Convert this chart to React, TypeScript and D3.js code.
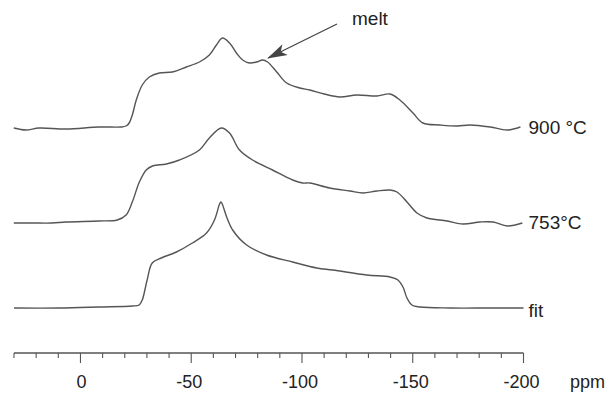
import React, { useEffect, useRef } from "react";
import * as d3 from "d3";

// chemical shift (ppm) and intensity above each trace's own baseline
const ppm900 = [30.1, 24.6, 18.7, 6.5, -8.4, -18.4, -20.6, -22.0, -23.4, -25.2, -27.9, -31.1, -35.6, -41.5, -47.8, -53.7, -58.2, -61.4, -64.1, -67.3, -70.4, -73.2, -76.3, -79.5, -82.2, -84.5, -88.6, -93.1, -99.0, -103.5, -110.0, -117.1, -124.8, -133.8, -139.7, -144.2, -150.1, -154.6, -162.4, -170.0, -175.9, -185.0, -192.7, -198.6];
const int900 = [0, -2, 0, -1, 1, 1, 2, 5, 13, 28, 43, 51, 55, 56, 61, 66, 73, 83, 90, 85, 75, 68, 65, 66, 68, 66, 56, 45, 40, 38, 34, 31, 33, 32, 34, 28, 15, 5, 3, 2, 3, 1, -2, 1];

const ppm753 = [30.1, 21.9, 12.9, 6.5, -8.4, -16.6, -20.6, -23.4, -26.6, -29.7, -32.5, -38.8, -44.7, -53.7, -58.2, -63.6, -67.3, -71.8, -77.7, -86.7, -95.8, -100.3, -103.5, -112.5, -121.6, -127.5, -133.8, -139.7, -142.9, -147.4, -151.9, -156.4, -165.5, -172.7, -180.4, -186.3, -192.7, -199.5];
const int753 = [0, 0, 0, 1, 2, 3, 8, 21, 41, 53, 57, 59, 63, 73, 85, 95, 90, 73, 63, 53, 43, 40, 40, 35, 32, 30, 32, 33, 31, 21, 10, 5, 2, -1, 1, 1, -3, 0];

const ppmFit = [30.0, 9.7, -8.4, -23.4, -26.5, -27.9, -30.1, -32.4, -36.5, -43.3, -50.5, -56.9, -60.5, -62.8, -63.4, -64.0, -66.0, -68.7, -75.0, -84.0, -95.8, -106.7, -113.9, -129.3, -139.7, -143.3, -145.6, -147.4, -149.6, -153.3, -166.9, -185.0, -200.0];
const intFit = [0, 0, 1, 2, 3, 8, 28, 45, 50, 56, 65, 75, 88, 104, 106, 104, 91, 78, 63, 53, 46, 40, 38, 33, 31, 28, 21, 10, 3, 1, 0, 0, 0];

const seriesNames = ["900 °C", "753°C", "fit"];
const seriesOffsets = [180, 85, 0];

const majorTicks = [0, -50, -100, -150, -200];
const minorTicks = d3.range(30, -201, -10);
const axisUnit = "ppm";

const meltLabel = "melt";
const meltTip = { ppm: -84.7, value: 250 };
const meltTail = { ppm: -115.8, value: 284 };

const App = () => {
  const svgRef = useRef<SVGSVGElement>(null);

  useEffect(() => {
    const svg = d3.select(svgRef.current);
    svg.selectAll("*").remove();

    const axisY = 353;
    const ink = "#555";
    const font = "'Liberation Sans', Arial, sans-serif";

    const x = d3.scaleLinear().domain([30, -200]).range([14, 523.5]);
    const y = d3.scaleLinear().domain([0, 300]).range([308, 8]);

    const traces = [
      { ppm: ppm900, val: int900 },
      { ppm: ppm753, val: int753 },
      { ppm: ppmFit, val: intFit },
    ];

    const line = d3
      .line<[number, number]>()
      .x((d) => x(d[0]))
      .y((d) => y(d[1]))
      .curve(d3.curveCatmullRom.alpha(0.5));

    traces.forEach((t, i) => {
      const off = seriesOffsets[i];
      const pts = t.ppm.map((p, j) => [p, t.val[j] + off] as [number, number]);
      svg
        .append("path")
        .attr("d", line(pts))
        .attr("fill", "none")
        .attr("stroke", ink)
        .attr("stroke-width", 1.4)
        .attr("stroke-linejoin", "round");

      svg
        .append("text")
        .attr("x", x(-200) + 5)
        .attr("y", y(off) + (i === 2 ? 2 : -1))
        .attr("dominant-baseline", "central")
        .attr("font-family", font)
        .attr("font-size", 19)
        .attr("fill", "#222")
        .text(seriesNames[i]);
    });

    // axis
    const ax = svg.append("g");
    ax.append("line")
      .attr("x1", x(30))
      .attr("x2", x(-200))
      .attr("y1", axisY)
      .attr("y2", axisY)
      .attr("stroke", ink)
      .attr("stroke-width", 1.4);
    ax.selectAll("line.minor")
      .data(minorTicks)
      .enter()
      .append("line")
      .attr("class", "minor")
      .attr("x1", (d) => x(d))
      .attr("x2", (d) => x(d))
      .attr("y1", axisY)
      .attr("y2", (d) => axisY + (majorTicks.includes(d) ? 10 : 5))
      .attr("stroke", ink)
      .attr("stroke-width", 1.1);
    ax.selectAll("text.tick")
      .data(majorTicks)
      .enter()
      .append("text")
      .attr("class", "tick")
      .attr("x", (d) => x(d) + (d < 0 ? -2 : 1))
      .attr("y", 388)
      .attr("text-anchor", "middle")
      .attr("font-family", font)
      .attr("font-size", 18)
      .attr("fill", "#222")
      .text((d) => String(d));
    ax.append("text")
      .attr("x", 570)
      .attr("y", 388)
      .attr("font-family", font)
      .attr("font-size", 18)
      .attr("fill", "#222")
      .text(axisUnit);

    // melt annotation
    const defs = svg.append("defs");
    defs
      .append("marker")
      .attr("id", "head")
      .attr("viewBox", "0 0 20 12")
      .attr("refX", 19)
      .attr("refY", 6)
      .attr("markerWidth", 20)
      .attr("markerHeight", 12)
      .attr("markerUnits", "userSpaceOnUse")
      .attr("orient", "auto")
      .append("path")
      .attr("d", "M0,0 L20,6 L0,12 L5,6 Z")
      .attr("fill", "#444");
    svg
      .append("line")
      .attr("x1", x(meltTail.ppm))
      .attr("y1", y(meltTail.value))
      .attr("x2", x(meltTip.ppm))
      .attr("y2", y(meltTip.value))
      .attr("stroke", "#444")
      .attr("stroke-width", 1.3)
      .attr("marker-end", "url(#head)");
    svg
      .append("text")
      .attr("x", 352)
      .attr("y", 25)
      .attr("font-family", font)
      .attr("font-size", 19)
      .attr("fill", "#222")
      .text(meltLabel);
  }, []);

  return (
    <svg
      ref={svgRef}
      width={608}
      height={393}
      style={{ position: "absolute", left: 0, top: 0, background: "white" }}
    />
  );
};

export default App;
